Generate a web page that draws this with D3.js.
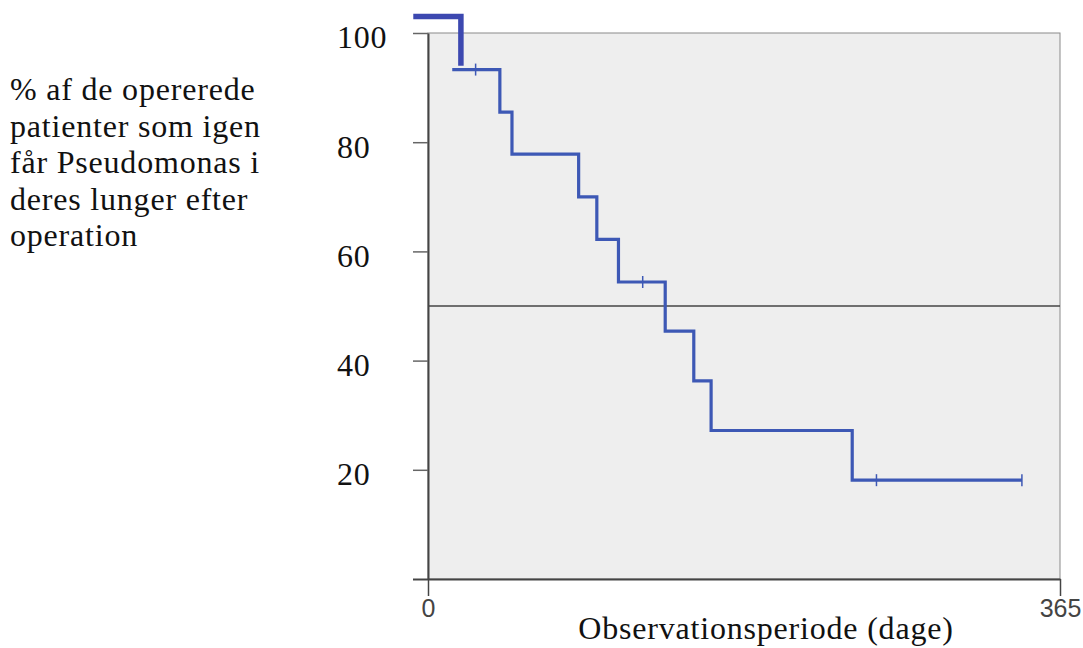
<!DOCTYPE html>
<head>
  <style>
    body { margin: 0; background: #fff; }
    .lbl { font-family: "Liberation Serif", serif; fill: #111; letter-spacing: 0.8px; }
  </style>
<title>Pseudomonas efter operation</title>
</head>
<body>
  <script src="https://cdn.jsdelivr.net/npm/d3@7"></script>
  <script>
    // data
    var kmDays = [14, 41.5, 48.5, 87, 97.5, 110, 137, 153.5, 163.5, 245, 343];
    var kmPct = [93.3, 85.5, 77.8, 70.0, 62.2, 54.4, 45.4, 36.3, 27.2, 18.1, 18.1];
    var censorDays = [27.5, 124, 259, 343];
    var censorPct = [93.3, 54.4, 18.1, 18.1];
    // the thick start piece sits above the frame in the original
    var startDays = [-8.5, 19, 19];
    var startPct = [103, 103, 94];
    var yLabels = [20, 40, 60, 80, 100];
    var yTicks = [0, 20, 40, 60, 80, 100];
    var xTicks = [0, 365];
    var refLine = 50;
    var yTitle = ["% af de opererede", "patienter som igen", "får Pseudomonas i", "deres lunger efter", "operation"];
    var xTitle = "Observationsperiode (dage)";

    var width = 1083, height = 648;
    var plot = { left: 428, right: 1060, top: 33, bottom: 579 };

    var x = d3.scaleLinear().domain([0, 365]).range([plot.left, plot.right]);
    var y = d3.scaleLinear().domain([0, 100]).range([plot.bottom, plot.top]);

    var svg = d3.select("body").append("svg")
      .attr("width", width)
      .attr("height", height);

    // grey plot area with thin frame
    svg.append("rect")
      .attr("x", plot.left).attr("y", plot.top)
      .attr("width", plot.right - plot.left).attr("height", plot.bottom - plot.top)
      .attr("fill", "#eeeeee")
      .attr("stroke", "#8a8a8a").attr("stroke-width", 1);

    // 50% line
    svg.append("line")
      .attr("x1", x(0)).attr("x2", x(365))
      .attr("y1", y(refLine)).attr("y2", y(refLine))
      .attr("stroke", "#444").attr("stroke-width", 1.3);

    // y axis ticks (labels drawn separately)
    var yAxis = d3.axisLeft(y).tickValues(yTicks).tickSize(15).tickSizeOuter(0).tickFormat("");
    var gy = svg.append("g").attr("transform", "translate(" + plot.left + ",0)").call(yAxis);
    gy.select(".domain").attr("stroke", "#444").attr("stroke-width", 2);
    gy.selectAll(".tick line").attr("stroke", "#666").attr("stroke-width", 1.5);
    gy.selectAll(".tick").filter(function(d) { return d === 0; })
      .select("line").attr("stroke", "#444").attr("stroke-width", 2);

    // x axis
    var xAxis = d3.axisBottom(x).tickValues(xTicks).tickSize(17).tickSizeOuter(0).tickPadding(3);
    var gx = svg.append("g").attr("transform", "translate(0," + plot.bottom + ")").call(xAxis);
    gx.select(".domain").attr("stroke", "#444").attr("stroke-width", 2);
    gx.selectAll(".tick line").attr("stroke", "#444").attr("stroke-width", 1.5);
    gx.selectAll(".tick text")
      .attr("font-family", "Liberation Sans, Arial, sans-serif")
      .attr("font-size", 25).attr("fill", "#444");

    // y labels, big serif, left aligned
    svg.append("g").selectAll("text").data(yLabels).enter()
      .append("text")
      .attr("class", "lbl")
      .attr("x", 337)
      .attr("y", function(d) { return y(d); })
      .attr("dy", "0.48em")
      .attr("font-size", 32)
      .text(function(d) { return d; });

    // step curve
    var kmData = kmDays.map(function(d, i) { return [d, kmPct[i]]; });
    var line = d3.line()
      .x(function(d) { return x(d[0]); })
      .y(function(d) { return y(d[1]); })
      .curve(d3.curveStepAfter);

    svg.append("path")
      .datum(kmData)
      .attr("d", line)
      .attr("fill", "none")
      .attr("stroke", "#3d58b5")
      .attr("stroke-width", 3.2);

    var startData = startDays.map(function(d, i) { return [d, startPct[i]]; });
    svg.append("path")
      .datum(startData)
      .attr("d", d3.line().x(function(d) { return x(d[0]); }).y(function(d) { return y(d[1]); }))
      .attr("fill", "none")
      .attr("stroke", "#3c48b0")
      .attr("stroke-width", 5.5);

    // censor marks
    svg.append("g").selectAll("line").data(censorDays).enter()
      .append("line")
      .attr("x1", function(d) { return x(d); })
      .attr("x2", function(d) { return x(d); })
      .attr("y1", function(d, i) { return y(censorPct[i]) - 6; })
      .attr("y2", function(d, i) { return y(censorPct[i]) + 6; })
      .attr("stroke", "#3d58b5")
      .attr("stroke-width", 1.5);

    // titles
    svg.append("text")
      .attr("class", "lbl")
      .attr("x", 766).attr("y", 639)
      .attr("text-anchor", "middle")
      .attr("font-size", 32)
      .text(xTitle);

    svg.append("g").selectAll("text").data(yTitle).enter()
      .append("text")
      .attr("class", "lbl")
      .attr("x", 10)
      .attr("y", function(d, i) { return 100 + i * 36.6; })
      .attr("font-size", 32)
      .text(function(d) { return d; });
  </script>
</body>
